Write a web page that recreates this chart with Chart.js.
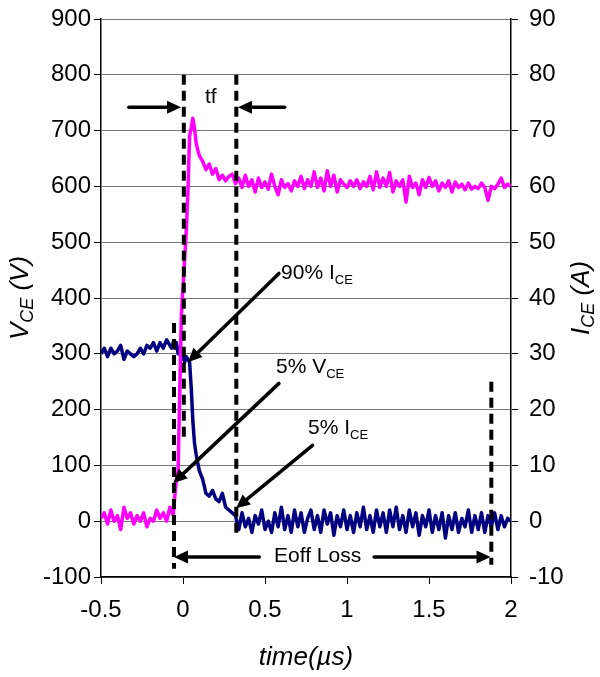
<!DOCTYPE html>
<html>
<head>
<meta charset="utf-8">
<script src="https://cdn.jsdelivr.net/npm/chart.js@4.4.1/dist/chart.umd.min.js"></script>
<style>
html, body { margin: 0; padding: 0; background: #fff; }
#wrap { width: 600px; height: 677px; }
</style>
</head>
<body>
<div id="wrap"><canvas id="chart" width="600" height="677"></canvas></div>
<script>
// sample times (µs), shared by both traces
var timeUs = [
    -0.50, -0.48, -0.46, -0.44, -0.42, -0.40, -0.38, -0.36, -0.34, -0.32, -0.30,
    -0.28, -0.26, -0.24, -0.22, -0.20, -0.18, -0.16, -0.14, -0.12, -0.10, -0.08,
    -0.07, -0.06, -0.05, -0.04, -0.03, -0.02, -0.01, 0.00, 0.01, 0.02, 0.03, 0.04,
    0.05, 0.06, 0.07, 0.08, 0.09, 0.10,
    0.12, 0.14, 0.16, 0.18, 0.20, 0.22, 0.24, 0.26, 0.28, 0.30,
    0.32, 0.34, 0.36, 0.38, 0.40, 0.42, 0.44, 0.46, 0.48, 0.50,
    0.52, 0.54, 0.56, 0.58, 0.60, 0.62, 0.64, 0.66, 0.68, 0.70,
    0.72, 0.74, 0.76, 0.78, 0.80, 0.82, 0.84, 0.86, 0.88, 0.90,
    0.92, 0.94, 0.96, 0.98, 1.00, 1.02, 1.04, 1.06, 1.08, 1.10,
    1.12, 1.14, 1.16, 1.18, 1.20, 1.22, 1.24, 1.26, 1.28, 1.30,
    1.32, 1.34, 1.36, 1.38, 1.40, 1.42, 1.44, 1.46, 1.48, 1.50,
    1.52, 1.54, 1.56, 1.58, 1.60, 1.62, 1.64, 1.66, 1.68, 1.70,
    1.72, 1.74, 1.76, 1.78, 1.80, 1.82, 1.84, 1.86, 1.88, 1.90,
    1.92, 1.94, 1.96, 1.98, 2.00
];

// collector-emitter voltage (V), left axis
var vceVolts = [
    5, 15, -5, 20, 0, 10, -15, 25, 5, 15, -5,
    10, 0, 15, -10, 5, 0, 20, 5, 15, 0, 25,
    20, 10, 45, 75, 90, 230, 370, 420, 470, 520, 590, 690,
    705, 722, 705, 678, 665, 655,
    645, 630, 640, 622, 632, 612, 620, 610, 618, 622,
    605, 615, 598, 620, 600, 612, 590, 615, 598, 608,
    595, 622, 600, 585, 612, 598, 605, 592, 610, 600,
    618, 596, 612, 600, 626, 598, 615, 592, 628, 600,
    620, 590, 612, 604, 598, 610, 600, 612, 596, 608,
    600, 618, 594, 626, 598, 615, 600, 625, 590, 610,
    600, 612, 572, 618, 598, 606, 585, 612, 598, 616,
    600, 610, 592, 606, 598, 610, 590, 608, 598, 604,
    594, 606, 595, 600, 596, 606, 598, 575, 600, 596,
    604, 615, 598, 604, 600
];

// collector current (A), right axis
var iceAmps = [
    30, 31, 29.5, 31, 30, 30.5, 31.5, 29, 30.5, 30, 29.5,
    30, 31, 30, 31.5, 31, 32, 30.5, 32, 31, 32.5, 31.5,
    31, 32, 31, 32, 30, 31, 29, 30, 28.5, 29.5, 29, 28.5,
    24, 18, 14, 12, 10.4, 9,
    7.5, 5, 4.5, 5.5, 4, 3.5, 5, 2.5, 2, 1.5,
    1, -1.5, 1.5, -1, 0.5, -2, 1, -0.5, 2, -1.5,
    0, -2, 1.5, -1, 2.5, -1.5, 1, -2, 2, -1,
    1.5, -2, 0.5, 2, -1.5, 1, -2, 2, -0.5, 1.5,
    -2.5, 1, -1, 2, -1.5, 1, -2, 1.5, -1, 2.5,
    -1.5, 1, -2, 2, -1, 1.5, -2, 2, -1, 2.5,
    -1.5, 1, -2, 2, -1, 1.5, -2.5, 1, -1, 2,
    -2, 1, -1.5, 1.5, -3, 1, -1.5, 1.5, -2, 0.5,
    -1, 2, -2, 1, -1.5, 1.5, -2, 1, -1, 1.5,
    -1.5, 1, -1, 0.5, 0
];

// dashed marker lines: time, and V span on the left axis
var markX = [0.005, 0.325, -0.055, 1.88];
var markTop = [800, 800, 355, 250];
var markBottom = [145, -25, -85, -78];

// arrows (time, V)
var arrowFromX = [-0.33, 0.62, 0.585, 0.585, 0.79, 0.465, 1.165];
var arrowFromY = [742, 742, 444, 247, 136, -64, -64];
var arrowToX = [-0.012, 0.335, 0.03, -0.06, 0.323, -0.055, 1.875];
var arrowToY = [742, 742, 285, 68, 23, -64, -64];

// notes: text, subscript, left edge (time) and baseline (V)
var noteText = ['tf', '90% I', '5% V', '5% I', 'Eoff Loss'];
var noteSub = ['', 'CE', 'CE', 'CE', ''];
var noteX = [0.134, 0.598, 0.567, 0.762, 0.555];
var noteY = [749, 434, 265, 156, -73];

var FONT = '"Liberation Sans", Arial, Helvetica, sans-serif';

function xy(xs, ys) {
    return xs.map(function (x, i) { return { x: x, y: ys[i] }; });
}

function drawArrow(ctx, x1, y1, x2, y2) {
    var ang = Math.atan2(y2 - y1, x2 - x1);
    var len = 14, half = 6.5;
    var bx = x2 - len * Math.cos(ang), by = y2 - len * Math.sin(ang);
    ctx.beginPath();
    ctx.moveTo(x1, y1);
    ctx.lineTo(bx, by);
    ctx.stroke();
    ctx.beginPath();
    ctx.moveTo(x2, y2);
    ctx.lineTo(bx + half * Math.sin(ang), by - half * Math.cos(ang));
    ctx.lineTo(bx - half * Math.sin(ang), by + half * Math.cos(ang));
    ctx.closePath();
    ctx.fill();
}

// main text + subscript + tail, starting at x (left), baseline/middle at y
function drawSubLabel(ctx, parts, x, y, size, subSize, subShift, style) {
    var st = style ? style + ' ' : '';
    var cx = x;
    parts.forEach(function (p) {
        ctx.font = st + (p.sub ? subSize : size) + 'px ' + FONT;
        ctx.fillText(p.t, cx, y + (p.sub ? subShift : 0));
        cx += ctx.measureText(p.t).width;
    });
}

function labelWidth(ctx, parts, size, subSize, style) {
    var st = style ? style + ' ' : '';
    var w = 0;
    parts.forEach(function (p) {
        ctx.font = st + (p.sub ? subSize : size) + 'px ' + FONT;
        w += ctx.measureText(p.t).width;
    });
    return w;
}

var notesPlugin = {
    id: 'notes',
    afterDatasetsDraw: function (chart) {
        var ctx = chart.ctx, sx = chart.scales.x, sy = chart.scales.y;
        ctx.save();
        ctx.strokeStyle = '#000';
        ctx.fillStyle = '#000';

        ctx.lineWidth = 4;
        ctx.setLineDash([10, 6]);
        markX.forEach(function (v, i) {
            var px = sx.getPixelForValue(v);
            ctx.beginPath();
            ctx.moveTo(px, sy.getPixelForValue(markTop[i]));
            ctx.lineTo(px, sy.getPixelForValue(markBottom[i]));
            ctx.stroke();
        });
        ctx.setLineDash([]);

        ctx.lineWidth = 3.5;
        ctx.lineCap = 'round';
        arrowFromX.forEach(function (v, i) {
            drawArrow(ctx,
                sx.getPixelForValue(v), sy.getPixelForValue(arrowFromY[i]),
                sx.getPixelForValue(arrowToX[i]), sy.getPixelForValue(arrowToY[i]));
        });

        ctx.textAlign = 'left';
        ctx.textBaseline = 'alphabetic';
        noteText.forEach(function (t, i) {
            var parts = [{ t: t }];
            if (noteSub[i]) parts.push({ t: noteSub[i], sub: true });
            drawSubLabel(ctx, parts, sx.getPixelForValue(noteX[i]), sy.getPixelForValue(noteY[i]), 21, 13, 5, '');
        });
        ctx.restore();
    },
    afterDraw: function (chart) {
        var ctx = chart.ctx, a = chart.chartArea;
        ctx.save();
        ctx.fillStyle = '#000';
        ctx.textBaseline = 'middle';
        ctx.textAlign = 'left';
        var midY = (a.top + a.bottom) / 2;

        var leftParts = [{ t: 'V' }, { t: 'CE', sub: true }, { t: ' (V)' }];
        var rightParts = [{ t: 'I' }, { t: 'CE', sub: true }, { t: ' (A)' }];
        [[leftParts, a.left - 80], [rightParts, a.right + 71]].forEach(function (d) {
            ctx.save();
            ctx.translate(d[1], midY);
            ctx.rotate(-Math.PI / 2);
            var w = labelWidth(ctx, d[0], 26, 18, 'italic');
            drawSubLabel(ctx, d[0], -w / 2, 0, 26, 18, 7, 'italic');
            ctx.restore();
        });

        ctx.textAlign = 'center';
        ctx.font = 'italic 26px ' + FONT;
        ctx.fillText('time(\u00b5s)', (a.left + a.right) / 2, a.bottom + 81);
        ctx.restore();
    }
};

function fixVertical(width) {
    return function (s) {
        s.width = width;
        s.paddingTop = 0;
        s.paddingBottom = 0;
    };
}

new Chart(document.getElementById('chart').getContext('2d'), {
    type: 'line',
    data: {
        datasets: [
            {
                label: 'VCE',
                data: xy(timeUs, vceVolts),
                yAxisID: 'y',
                borderColor: '#ff00ff',
                borderWidth: 3.5,
                pointRadius: 0,
                tension: 0,
                borderJoinStyle: 'round',
                fill: false
            },
            {
                label: 'ICE',
                data: xy(timeUs, iceAmps),
                yAxisID: 'y1',
                borderColor: '#000080',
                borderWidth: 3.5,
                pointRadius: 0,
                tension: 0,
                borderJoinStyle: 'round',
                fill: false
            }
        ]
    },
    options: {
        responsive: false,
        animation: false,
        layout: { padding: { top: 19, left: 0, right: 0, bottom: 0 } },
        plugins: { legend: { display: false }, tooltip: { enabled: false } },
        scales: {
            x: {
                type: 'linear',
                min: -0.5,
                max: 2,
                ticks: {
                    stepSize: 0.5,
                    color: '#000',
                    font: { size: 24, family: FONT },
                    padding: 12,
                    maxRotation: 0,
                    callback: function (v) { return String(v); }
                },
                grid: { drawOnChartArea: false, tickColor: '#000', tickLength: 7 },
                border: { color: '#000', width: 1.5 },
                afterFit: function (s) { s.height = 100; }
            },
            y: {
                position: 'left',
                min: -100,
                max: 900,
                ticks: { stepSize: 100, color: '#000', font: { size: 24, family: FONT }, padding: 3 },
                grid: { color: '#7a7a7a', lineWidth: 1, tickColor: '#000', tickLength: 7 },
                border: { color: '#000', width: 1.5 },
                afterFit: fixVertical(101)
            },
            y1: {
                position: 'right',
                min: -10,
                max: 90,
                ticks: { stepSize: 10, color: '#000', font: { size: 24, family: FONT }, padding: 11 },
                grid: { drawOnChartArea: false, tickColor: '#000', tickLength: 7 },
                border: { color: '#000', width: 1.5 },
                afterFit: fixVertical(89)
            }
        }
    },
    plugins: [notesPlugin]
});
</script>
</body>
</html>
